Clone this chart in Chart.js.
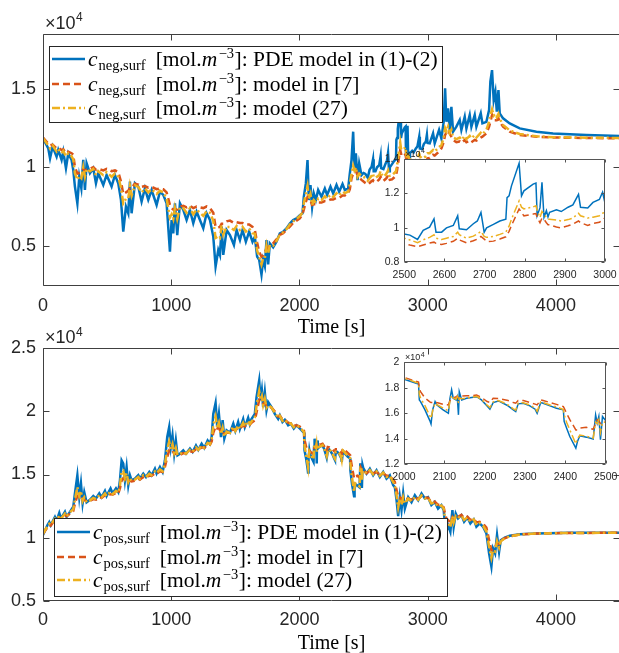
<!DOCTYPE html>
<html>
<head>
<meta charset="utf-8">
<script src="https://cdn.jsdelivr.net/npm/chart.js@4.4.0/dist/chart.umd.min.js"></script>
<style>
html, body { margin: 0; padding: 0; background: #fff; }
#fig { position: relative; width: 619px; height: 653px; overflow: hidden; background: #fff; }
#fig canvas { position: absolute; }
</style>
</head>
<body>
<div id="fig">
  <canvas id="negMain" width="626" height="340" style="left:0;top:0;width:626px;height:340px"></canvas>
  <canvas id="posMain" width="626" height="335" style="left:0;top:318px;width:626px;height:335px"></canvas>
  <canvas id="negInset" width="265" height="150" style="left:370px;top:140px;width:265px;height:150px"></canvas>
  <canvas id="posInset" width="265" height="150" style="left:370px;top:345px;width:265px;height:150px"></canvas>
</div>
<script>
// surface concentration, values in units of 1e4 mol/m^3, time in s

// negative electrode
const tNeg = [
  0,41,55,75,106,119,145,158,179,197,
  223,236,249,268,283,299,314,327,340,366,
  392,413,431,470,496,535,561,587,608,626,
  647,665,678,691,717,743,769,795,821,847,
  886,912,938,964,990,1003,1016,1029,1047,1068,
  1094,1120,1146,1172,1198,1250,1276,1302,1328,1346,
  1367,1380,1393,1406,1432,1458,1489,1510,1536,1556,
  1582,1608,1634,1652,1670,1686,1704,1717,1730,1743,
  1756,1769,1795,1821,1847,1873,1899,1925,1951,1977,
  2003,2024,2034,2050,2063,2073,2086,2099,2112,2128,
  2146,2172,2198,2216,2242,2263,2289,2310,2336,2354,
  2380,2393,2406,2419,2429,2440,2453,2466,2484,2500,
  2514,2533,2547,2563,2574,2579,2593,2605,2622,2633,
  2637,2655,2672,2682,2691,2699,2705,2722,2738,2753,
  2756,2761,2767,2786,2792,2798,2821,2828,2831,2838,
  2843,2848,2854,2858,2862,2879,2891,2908,2920,2934,
  2939,2957,2970,2986,2994,2999,3016,3042,3055,3089,
  3107,3125,3136,3146,3159,3172,3185,3198,3224,3250,
  3263,3289,3302,3328,3341,3367,3380,3414,3427,3458,
  3479,3489,3502,3515,3528,3539,3552,3562,3588,3640,
  3718,3848,3978,4238,4500
];
const negPDE = [
  1.185,1.121,1.057,1.132,1.068,1.111,1.047,1.100,0.994,1.089,
  1.047,0.983,0.877,0.770,0.940,0.866,1.047,0.855,1.026,0.962,
  0.994,0.898,0.962,0.887,0.951,0.877,0.951,0.898,0.792,0.590,
  0.749,0.707,0.909,0.707,0.898,0.877,0.781,0.866,0.792,0.855,
  0.760,0.845,0.824,0.770,0.462,0.664,0.579,0.770,0.568,0.770,
  0.728,0.664,0.728,0.643,0.717,0.611,0.707,0.664,0.558,0.367,
  0.473,0.441,0.622,0.441,0.600,0.568,0.505,0.600,0.536,0.600,
  0.525,0.590,0.525,0.557,0.430,0.410,0.316,0.410,0.370,0.536,
  0.380,0.515,0.490,0.525,0.578,0.589,0.610,0.642,0.663,0.674,
  0.695,0.706,0.812,0.897,1.046,0.791,0.887,0.748,0.833,0.791,
  0.855,0.812,0.865,0.823,0.876,0.833,0.887,0.844,0.893,0.855,
  0.865,0.961,1.046,1.227,0.982,1.089,0.918,1.025,0.950,0.964,
  0.958,0.933,0.985,1.004,1.052,0.975,0.975,1.000,1.014,1.070,
  0.995,0.989,1.024,1.040,1.090,0.975,1.000,1.020,1.040,1.050,
  1.176,1.186,1.244,1.375,1.186,1.215,1.254,1.260,1.071,1.116,
  1.264,1.061,1.100,1.064,1.090,1.105,1.095,1.120,1.133,1.195,
  1.120,1.116,1.148,1.165,1.207,1.155,1.153,1.216,1.153,1.238,
  1.184,1.290,1.503,1.290,1.376,1.238,1.386,1.227,1.259,1.302,
  1.238,1.323,1.248,1.333,1.259,1.333,1.259,1.344,1.280,1.290,
  1.365,1.546,1.620,1.429,1.482,1.355,1.493,1.344,1.312,1.280,
  1.248,1.227,1.216,1.206,1.200
];
const negRef7 = [
  1.19,1.15,1.14,1.145,1.12,1.125,1.11,1.115,1.09,1.10,
  1.09,1.08,1.00,0.96,0.965,0.97,0.99,0.975,0.985,0.99,
  1.00,0.985,0.99,0.98,0.99,0.975,0.98,0.97,0.91,0.83,
  0.84,0.85,0.87,0.87,0.895,0.89,0.875,0.88,0.87,0.875,
  0.86,0.865,0.86,0.84,0.76,0.74,0.73,0.735,0.73,0.75,
  0.755,0.745,0.755,0.74,0.75,0.74,0.75,0.74,0.71,0.62,
  0.615,0.62,0.64,0.64,0.655,0.66,0.645,0.65,0.645,0.645,
  0.635,0.635,0.62,0.60,0.52,0.46,0.43,0.44,0.46,0.48,
  0.49,0.50,0.515,0.54,0.568,0.58,0.60,0.621,0.645,0.66,
  0.674,0.70,0.73,0.78,0.81,0.80,0.79,0.76,0.765,0.765,
  0.775,0.775,0.785,0.785,0.795,0.795,0.805,0.805,0.82,0.82,
  0.835,0.86,0.93,0.96,0.975,0.98,0.95,0.935,0.92,0.909,
  0.90,0.89,0.90,0.912,0.917,0.91,0.903,0.91,0.922,0.94,
  0.93,0.913,0.925,0.935,0.95,0.935,0.92,0.923,0.935,0.948,
  0.96,0.98,1.014,1.11,1.09,1.07,1.08,1.083,1.06,1.03,
  1.057,1.05,1.03,1.018,1.018,1.005,1.00,1.012,1.022,1.04,
  1.03,1.014,1.025,1.032,1.045,1.057,1.06,1.08,1.075,1.10,
  1.12,1.16,1.206,1.22,1.238,1.215,1.195,1.175,1.16,1.165,
  1.155,1.174,1.16,1.17,1.16,1.175,1.17,1.19,1.195,1.216,
  1.26,1.29,1.333,1.30,1.30,1.30,1.312,1.29,1.259,1.227,
  1.206,1.195,1.19,1.187,1.185
];
const negModel27 = [
  1.185,1.14,1.12,1.14,1.10,1.115,1.09,1.105,1.07,1.09,
  1.07,1.05,0.96,0.92,0.945,0.93,1.00,0.94,0.99,0.975,
  0.99,0.95,0.975,0.95,0.97,0.94,0.96,0.94,0.87,0.77,
  0.80,0.80,0.88,0.82,0.885,0.875,0.84,0.865,0.84,0.86,
  0.83,0.85,0.84,0.80,0.68,0.70,0.67,0.74,0.67,0.745,
  0.74,0.71,0.74,0.70,0.73,0.69,0.72,0.71,0.66,0.55,
  0.56,0.55,0.63,0.57,0.62,0.62,0.60,0.625,0.60,0.62,
  0.59,0.61,0.58,0.575,0.47,0.43,0.38,0.42,0.42,0.50,
  0.45,0.505,0.50,0.53,0.57,0.585,0.605,0.635,0.655,0.67,
  0.69,0.71,0.77,0.83,0.88,0.80,0.83,0.76,0.79,0.775,
  0.80,0.79,0.815,0.80,0.825,0.81,0.835,0.82,0.845,0.835,
  0.845,0.89,0.96,1.01,0.98,1.00,0.94,0.96,0.945,0.94,
  0.93,0.914,0.93,0.945,0.96,0.94,0.932,0.94,0.95,0.975,
  0.96,0.94,0.952,0.965,0.98,0.95,0.945,0.95,0.962,0.975,
  0.99,1.01,1.05,1.157,1.12,1.11,1.122,1.128,1.10,1.06,
  1.096,1.08,1.06,1.05,1.05,1.045,1.04,1.048,1.057,1.085,
  1.07,1.057,1.062,1.07,1.085,1.09,1.09,1.11,1.10,1.13,
  1.14,1.19,1.25,1.23,1.26,1.22,1.24,1.19,1.18,1.19,
  1.175,1.20,1.18,1.20,1.185,1.205,1.19,1.22,1.21,1.24,
  1.29,1.33,1.37,1.33,1.34,1.32,1.34,1.31,1.27,1.235,
  1.212,1.198,1.192,1.189,1.187
];

// positive electrode
const tPos = [
  0,34,49,60,93,106,127,140,171,184,
  210,236,249,268,283,296,309,322,340,366,
  392,413,439,457,483,496,527,543,569,587,
  600,613,626,639,652,665,678,691,717,743,
  756,782,803,829,847,873,886,912,933,951,
  969,984,997,1010,1023,1036,1049,1068,1094,1115,
  1146,1167,1193,1211,1237,1258,1284,1302,1315,1328,
  1346,1359,1372,1388,1401,1414,1432,1458,1484,1500,
  1522,1535,1561,1574,1600,1613,1626,1652,1665,1686,
  1697,1707,1717,1730,1743,1756,1782,1808,1834,1847,
  1868,1886,1912,1933,1956,1977,2000,2019,2036,2038,
  2041,2052,2064,2067,2071,2077,2081,2097,2110,2114,
  2118,2122,2129,2132,2135,2137,2143,2155,2172,2180,
  2192,2206,2213,2221,2234,2246,2258,2271,2277,2283,
  2296,2312,2325,2330,2339,2345,2362,2378,2395,2397,
  2403,2411,2426,2430,2436,2452,2469,2475,2479,2483,
  2487,2492,2498,2523,2549,2575,2601,2627,2653,2679,
  2705,2731,2744,2757,2770,2783,2796,2809,2822,2848,
  2874,2900,2926,2952,2978,3003,3029,3055,3081,3107,
  3125,3133,3146,3159,3177,3193,3203,3219,3237,3263,
  3284,3310,3333,3359,3380,3406,3432,3458,3479,3497,
  3510,3526,3541,3557,3570,3601,3640,3718,3848,4108,
  4500
];
const posPDE = [
  1.020,1.098,1.124,1.098,1.164,1.133,1.196,1.151,1.204,1.164,
  1.204,1.244,1.350,1.494,1.320,1.430,1.270,1.360,1.280,1.300,
  1.330,1.310,1.350,1.320,1.370,1.330,1.390,1.350,1.390,1.360,
  1.454,1.612,1.586,1.454,1.560,1.414,1.494,1.454,1.467,1.494,
  1.467,1.507,1.480,1.520,1.494,1.546,1.507,1.560,1.520,1.612,
  1.797,1.876,1.718,1.810,1.665,1.770,1.652,1.665,1.692,1.665,
  1.705,1.678,1.730,1.695,1.744,1.710,1.770,1.744,1.797,1.980,
  2.067,1.876,1.980,1.797,1.930,1.784,1.850,1.830,1.903,1.845,
  1.916,1.860,1.940,1.876,1.950,1.900,1.940,1.980,2.110,2.245,
  2.087,2.166,2.034,2.153,2.008,2.074,2.034,1.980,1.940,1.968,
  1.916,1.934,1.890,1.903,1.864,1.890,1.867,1.848,1.830,1.705,
  1.692,1.627,1.543,1.516,1.627,1.692,1.666,1.627,1.600,1.718,
  1.784,1.718,1.705,1.730,1.588,1.770,1.705,1.718,1.726,1.730,
  1.705,1.658,1.632,1.684,1.697,1.679,1.658,1.627,1.614,1.674,
  1.679,1.658,1.632,1.600,1.684,1.679,1.658,1.640,1.627,1.536,
  1.484,1.418,1.327,1.379,1.424,1.413,1.398,1.588,1.523,1.575,
  1.393,1.575,1.550,1.507,1.546,1.494,1.533,1.480,1.520,1.467,
  1.494,1.415,1.400,1.300,1.170,1.320,1.220,1.350,1.230,1.320,
  1.280,1.335,1.296,1.350,1.310,1.320,1.257,1.283,1.230,1.257,
  1.217,1.125,1.046,1.099,1.046,1.217,1.086,1.191,1.152,1.178,
  1.125,1.160,1.112,1.144,1.086,1.112,1.086,1.033,0.875,0.770,
  0.914,0.875,1.020,0.888,0.980,1.000,1.014,1.027,1.033,1.038,
  1.038
];
const posRef7 = [
  1.03,1.08,1.10,1.095,1.14,1.13,1.16,1.15,1.18,1.17,
  1.19,1.21,1.27,1.33,1.32,1.33,1.30,1.30,1.285,1.29,
  1.305,1.30,1.32,1.315,1.335,1.325,1.345,1.34,1.355,1.35,
  1.39,1.45,1.47,1.46,1.47,1.45,1.45,1.445,1.45,1.465,
  1.46,1.48,1.475,1.49,1.49,1.51,1.505,1.525,1.52,1.56,
  1.64,1.69,1.68,1.69,1.665,1.67,1.65,1.655,1.67,1.665,
  1.685,1.68,1.70,1.695,1.715,1.71,1.735,1.735,1.76,1.83,
  1.88,1.865,1.87,1.83,1.84,1.82,1.83,1.83,1.86,1.85,
  1.87,1.865,1.89,1.88,1.90,1.895,1.91,1.93,1.99,2.09,
  2.08,2.08,2.06,2.07,2.04,2.04,2.03,2.00,1.96,1.965,
  1.935,1.935,1.91,1.905,1.885,1.89,1.882,1.862,1.845,1.80,
  1.77,1.72,1.69,1.685,1.685,1.69,1.685,1.67,1.666,1.70,
  1.718,1.72,1.73,1.735,1.72,1.73,1.735,1.737,1.74,1.743,
  1.725,1.692,1.685,1.718,1.715,1.708,1.70,1.685,1.679,1.70,
  1.70,1.685,1.672,1.666,1.705,1.70,1.685,1.67,1.653,1.64,
  1.60,1.55,1.47,1.47,1.485,1.49,1.475,1.52,1.55,1.54,
  1.52,1.53,1.536,1.51,1.53,1.51,1.52,1.50,1.51,1.49,
  1.49,1.46,1.44,1.38,1.32,1.32,1.30,1.32,1.30,1.31,
  1.30,1.32,1.305,1.33,1.315,1.315,1.28,1.285,1.26,1.26,
  1.24,1.20,1.15,1.14,1.12,1.16,1.14,1.17,1.165,1.18,
  1.155,1.165,1.14,1.15,1.12,1.125,1.11,1.08,0.98,0.90,
  0.91,0.92,0.96,0.95,0.975,0.995,1.01,1.025,1.032,1.037,
  1.038
];
const posModel27 = [
  1.03,1.09,1.11,1.10,1.15,1.135,1.175,1.15,1.19,1.17,
  1.20,1.225,1.30,1.40,1.33,1.37,1.29,1.32,1.28,1.295,
  1.315,1.305,1.335,1.32,1.35,1.33,1.365,1.345,1.37,1.355,
  1.41,1.52,1.53,1.47,1.51,1.44,1.47,1.45,1.46,1.48,
  1.465,1.495,1.48,1.505,1.495,1.525,1.51,1.54,1.525,1.58,
  1.70,1.76,1.70,1.74,1.67,1.71,1.655,1.66,1.68,1.665,
  1.695,1.68,1.715,1.695,1.73,1.71,1.75,1.74,1.775,1.89,
  1.96,1.87,1.91,1.82,1.87,1.80,1.84,1.83,1.88,1.845,
  1.89,1.86,1.91,1.88,1.925,1.90,1.92,1.95,2.04,2.16,
  2.09,2.12,2.05,2.10,2.03,2.05,2.03,1.99,1.95,1.965,
  1.925,1.935,1.90,1.905,1.875,1.89,1.875,1.855,1.835,1.75,
  1.72,1.66,1.58,1.56,1.62,1.68,1.67,1.64,1.62,1.70,
  1.74,1.72,1.71,1.73,1.68,1.72,1.715,1.72,1.728,1.733,
  1.71,1.665,1.645,1.69,1.70,1.685,1.665,1.635,1.625,1.68,
  1.683,1.665,1.64,1.615,1.69,1.685,1.665,1.65,1.63,1.59,
  1.53,1.47,1.36,1.40,1.43,1.42,1.405,1.53,1.52,1.55,
  1.45,1.53,1.53,1.51,1.535,1.50,1.525,1.49,1.515,1.48,
  1.49,1.44,1.42,1.34,1.24,1.31,1.26,1.32,1.27,1.31,
  1.29,1.32,1.30,1.335,1.31,1.315,1.27,1.28,1.245,1.255,
  1.23,1.17,1.10,1.12,1.08,1.17,1.12,1.17,1.155,1.175,
  1.14,1.16,1.125,1.145,1.10,1.115,1.095,1.05,0.93,0.84,
  0.90,0.89,0.97,0.92,0.97,0.995,1.01,1.025,1.032,1.037,
  1.038
];

// ticks
const mainTicksX = [0, 1000, 2000, 3000, 4000];
const negTicksY = [0.5, 1, 1.5];
const posTicksY = [0.5, 1, 1.5, 2, 2.5];
const negInsetTicksX = [2500, 2600, 2700, 2800, 2900, 3000];
const negInsetTicksY = [0.8, 1, 1.2, 1.4];
const posInsetTicksX = [2000, 2100, 2200, 2300, 2400, 2500];
const posInsetTicksY = [1.2, 1.4, 1.6, 1.8, 2];

const descriptions = ['PDE model in (1)-(2)', 'model in [7]', 'model (27)'];

const COLORS = ['#0072BD', '#D95319', '#EDB120'];
const DASHES = [[], [7, 4], [8, 3, 2, 3]];
const SERIF = '"Liberation Serif", "Times New Roman", serif';
const SANS = '"Liberation Sans", Arial, sans-serif';
const AXIS = '#262626';

function pts(t, v) {
  return t.map((x, i) => ({ x: x, y: v[i] }));
}

function put(ctx, s, x, y, font) {
  ctx.font = font;
  ctx.fillText(s, x, y);
  return x + ctx.measureText(s).width;
}

function drawLegend(ctx, L) {
  ctx.save();
  ctx.fillStyle = '#fff';
  ctx.fillRect(L.x, L.y, L.w, L.h);
  ctx.strokeStyle = AXIS;
  ctx.lineWidth = 1;
  ctx.strokeRect(L.x + 0.5, L.y + 0.5, L.w, L.h);
  ctx.textBaseline = 'alphabetic';
  ctx.textAlign = 'left';
  for (let i = 0; i < 3; i++) {
    const y = L.rows[i];
    ctx.strokeStyle = COLORS[i];
    ctx.lineWidth = 2.5;
    ctx.setLineDash(DASHES[i]);
    ctx.beginPath();
    ctx.moveTo(L.x + 3, y);
    ctx.lineTo(L.x + 36, y);
    ctx.stroke();
    ctx.setLineDash([]);
    ctx.fillStyle = '#000';
    const b = y + 7;
    let x = L.x + 39;
    x = put(ctx, 'c', x, b, 'italic 21.5px ' + SERIF);
    x = put(ctx, L.sub, x + 1, b + 4, '14.5px ' + SERIF);
    x = put(ctx, '[mol.', x + 10, b, '21.5px ' + SERIF);
    x = put(ctx, 'm', x, b, 'italic 21.5px ' + SERIF);
    x = put(ctx, '\u22123', x + 1.5, b - 8, '14.5px ' + SERIF);
    put(ctx, ']: ' + descriptions[i], x + 0.5, b, '21.5px ' + SERIF);
  }
  ctx.restore();
}

function drawExponent(ctx, x, y, big, small) {
  ctx.save();
  ctx.fillStyle = AXIS;
  ctx.textBaseline = 'alphabetic';
  ctx.textAlign = 'left';
  let cx = put(ctx, '\u00d710', x, y, big + 'px ' + SANS);
  put(ctx, '4', cx + 0.5, y - big * 0.42, small + 'px ' + SANS);
  ctx.restore();
}

const boxPlugin = {
  id: 'matlabBox',
  beforeDatasetsDraw(chart, args, o) {
    if (!o.fillArea) return;
    const a = chart.chartArea, ctx = chart.ctx;
    ctx.save();
    ctx.fillStyle = '#fff';
    ctx.fillRect(a.left, a.top, a.right - a.left, a.bottom - a.top);
    ctx.restore();
  },
  afterDatasetsDraw(chart, args, o) {
    const ctx = chart.ctx, a = chart.chartArea;
    const xs = chart.scales.x, ys = chart.scales.y;
    const L = Math.round(a.left) + 0.5, R = Math.round(a.right) - 0.5;
    const T = Math.round(a.top) + 0.5, B = Math.round(a.bottom) - 0.5;
    ctx.save();
    ctx.strokeStyle = o.color;
    ctx.lineWidth = 1;
    ctx.beginPath();
    ctx.rect(L, T, R - L, B - T);
    xs.ticks.forEach(tk => {
      const px = Math.round(xs.getPixelForValue(tk.value)) + 0.5;
      ctx.moveTo(px, B); ctx.lineTo(px, B - o.len);
      ctx.moveTo(px, T); ctx.lineTo(px, T + o.len);
    });
    ys.ticks.forEach(tk => {
      const py = Math.round(ys.getPixelForValue(tk.value)) + 0.5;
      ctx.moveTo(L, py); ctx.lineTo(L + o.len, py);
      ctx.moveTo(R, py); ctx.lineTo(R - o.len, py);
    });
    ctx.stroke();
    ctx.restore();
  },
  afterDraw(chart, args, o) {
    const a = chart.chartArea;
    drawExponent(chart.ctx, a.left + o.expDx, a.top - o.expDy, o.expBig, o.expSmall);
    if (o.legend) drawLegend(chart.ctx, o.legend);
  }
};

function makeChart(id, cfg) {
  return new Chart(document.getElementById(id), {
    type: 'line',
    data: {
      datasets: cfg.series.map((s, i) => ({
        data: pts(cfg.t, s),
        borderColor: COLORS[i],
        borderWidth: cfg.lw,
        borderDash: DASHES[i],
        pointRadius: 0,
        tension: 0,
        fill: false,
        clip: 0,
        order: 3 - i
      }))
    },
    options: {
      responsive: false,
      maintainAspectRatio: false,
      animation: false,
      events: [],
      layout: { padding: cfg.pad },
      plugins: {
        legend: { display: false },
        tooltip: { enabled: false },
        matlabBox: cfg.box
      },
      scales: {
        x: {
          type: 'linear',
          min: cfg.xr[0], max: cfg.xr[1],
          grid: { display: false, drawTicks: false },
          border: { display: false },
          ticks: {
            autoSkip: false, maxRotation: 0,
            color: AXIS, padding: cfg.xPad,
            font: { family: SANS, size: cfg.fs },
            callback: v => String(v)
          },
          afterBuildTicks: s => { s.ticks = cfg.xt.map(v => ({ value: v })); },
          afterFit: s => { s.height = cfg.xH; },
          title: cfg.title ? {
            display: true, text: 'Time [s]', color: '#000',
            font: { family: SERIF, size: 20, lineHeight: 0.9 },
            padding: { top: 0, bottom: cfg.titlePad }
          } : { display: false }
        },
        y: {
          type: 'linear',
          min: cfg.yr[0], max: cfg.yr[1],
          grid: { display: false, drawTicks: false },
          border: { display: false },
          ticks: {
            autoSkip: false,
            color: AXIS, padding: cfg.yPad,
            font: { family: SANS, size: cfg.fs },
            callback: v => String(Math.round(v * 10) / 10)
          },
          afterBuildTicks: s => { s.ticks = cfg.yt.map(v => ({ value: v })); },
          afterFit: s => { s.width = cfg.yW; }
        }
      }
    },
    plugins: [boxPlugin]
  });
}

makeChart('negMain', {
  t: tNeg, series: [negPDE, negRef7, negModel27], lw: 2.5,
  xr: [0, 4500], yr: [0.243, 1.85], xt: mainTicksX, yt: negTicksY,
  pad: { top: 34, left: 0, right: 6, bottom: 0 }, yW: 43, xH: 54,
  fs: 18, xPad: 9, yPad: 7, title: true, titlePad: 3.5,
  box: { color: '#404040', len: 6, expDx: 2, expDy: 5, expBig: 18, expSmall: 12,
    legend: { x: 49, y: 46, w: 393, h: 76, rows: [59, 84, 108], sub: 'neg,surf' } }
});

makeChart('posMain', {
  t: tPos, series: [posPDE, posRef7, posModel27], lw: 2.5,
  xr: [0, 4500], yr: [0.5, 2.5], xt: mainTicksX, yt: posTicksY,
  pad: { top: 30.3, left: 0, right: 6, bottom: 0 }, yW: 43, xH: 52.3,
  fs: 18, xPad: 9, yPad: 7, title: true, titlePad: 0,
  box: { color: '#404040', len: 6, expDx: 2, expDy: 5, expBig: 18, expSmall: 12,
    legend: { x: 54, y: 200, w: 393, h: 78, rows: [214, 239, 262], sub: 'pos,surf' } }
});

makeChart('negInset', {
  t: tNeg, series: [negPDE, negRef7, negModel27], lw: 1.5,
  xr: [2500, 3000], yr: [0.8, 1.4], xt: negInsetTicksX, yt: negInsetTicksY,
  pad: { top: 19, left: 0, right: 30, bottom: 0 }, yW: 34.3, xH: 27.7,
  fs: 10.5, xPad: 7, yPad: 5, title: false,
  box: { color: '#555', len: 3, fillArea: true, expDx: 1, expDy: 2, expBig: 9, expSmall: 7 }
});

makeChart('posInset', {
  t: tPos, series: [posPDE, posRef7, posModel27], lw: 1.5,
  xr: [2000, 2500], yr: [1.2, 2.0], xt: posInsetTicksX, yt: posInsetTicksY,
  pad: { top: 17.3, left: 0, right: 29.3, bottom: 0 }, yW: 34, xH: 30.7,
  fs: 10.5, xPad: 7, yPad: 4.7, title: false,
  box: { color: '#555', len: 3, fillArea: true, expDx: 1, expDy: 2, expBig: 9, expSmall: 7 }
});
</script>
</body>
</html>
